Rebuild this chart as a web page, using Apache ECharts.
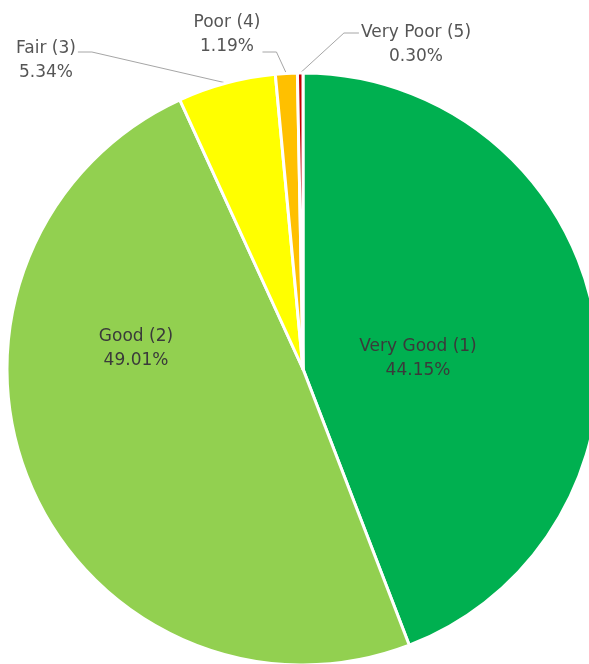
<!DOCTYPE html>
<html>
<head>
<meta charset="utf-8">
<script src="https://cdn.jsdelivr.net/npm/echarts@6/dist/echarts.min.js"></script>
<style>
  html, body { margin: 0; padding: 0; background: #fff; }
  #chart { width: 589px; height: 664px; }
</style>
</head>
<body>
<div id="chart"></div>
<script>
// Rating categories and their shares (%)
const categories = ['Very Good (1)', 'Good (2)', 'Fair (3)', 'Poor (4)', 'Very Poor (5)'];
const shares = [44.15, 49.01, 5.34, 1.19, 0.30];
const sliceColors = ['#00B050', '#92D050', '#FFFF00', '#FFC000', '#C00000'];

// Where each data label sits; outside labels get a leader line back to their slice
// side: which side of the label the leader line leaves from; lineDy: offset of that line from label centre
const labelSpots = [
  { x: 418, y: 359, inside: true },
  { x: 136, y: 349, inside: true },
  { x: 46, y: 61, side: 'right', lineDy: -9 },
  { x: 227, y: 35, side: 'right', lineDy: 17 },
  { x: 416, y: 45, side: 'left', lineDy: -12 }
];

const chart = echarts.init(document.getElementById('chart'), null, { renderer: 'canvas' });

const seriesData = categories.map((name, i) => ({
  name: name,
  value: shares[i],
  itemStyle: { color: sliceColors[i] },
  label: {
    position: labelSpots[i].inside ? 'inside' : 'outside',
    color: labelSpots[i].inside ? '#3a3a3a' : '#555555'
  },
  labelLine: { show: !labelSpots[i].inside }
}));

chart.setOption({
  animation: false,
  backgroundColor: '#ffffff',
  series: [{
    type: 'pie',
    center: [303, 369],
    radius: 296,
    startAngle: 90,
    clockwise: true,
    avoidLabelOverlap: false,
    itemStyle: { borderColor: '#ffffff', borderWidth: 3 },
    label: {
      show: true,
      fontFamily: 'DejaVu Sans',
      fontSize: 17,
      lineHeight: 24,
      align: 'center',
      formatter: p => p.name + '\n' + p.value.toFixed(2) + '%'
    },
    labelLine: {
      show: true,
      lineStyle: { color: '#a6a6a6', width: 1 }
    },
    labelLayout: function (params) {
      const spot = labelSpots[params.dataIndex];
      const out = { x: spot.x, y: spot.y, align: 'center', verticalAlign: 'middle' };
      if (!spot.inside && params.labelLinePoints) {
        const w = params.labelRect.width;
        const anchor = params.labelLinePoints[0];
        const ly = spot.y + spot.lineDy;
        const edge = spot.side === 'right' ? spot.x + w / 2 + 2 : spot.x - w / 2 - 2;
        const knee = spot.side === 'right' ? edge + 14 : edge - 15;
        out.labelLinePoints = [anchor, [knee, ly], [edge, ly]];
      }
      return out;
    },
    data: seriesData
  }]
});
</script>
</body>
</html>
